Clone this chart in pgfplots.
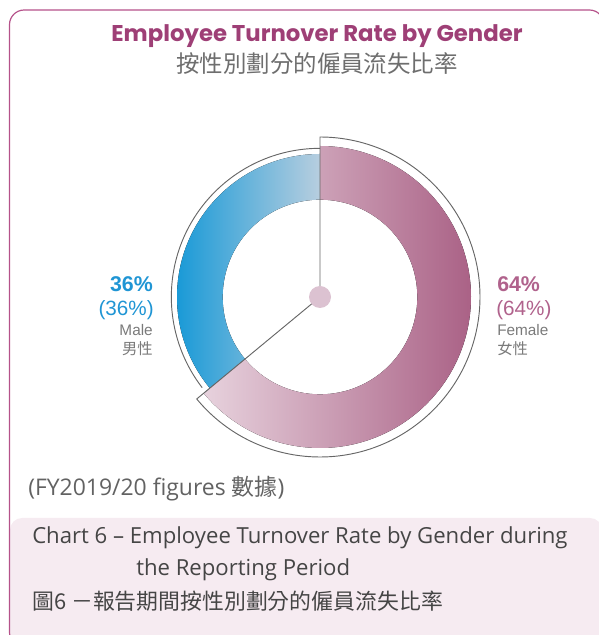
\documentclass[border=0pt]{standalone}
\usepackage{pgfplots}
\pgfplotsset{compat=1.18}
\usepackage{pgfplotstable}
\usepackage{fontspec}
\setmainfont{Open Sans}
\newfontfamily\titlefont{Poppins}
\newfontfamily\lblfont{Liberation Sans}
\newfontfamily\cjk{Noto Sans CJK TC}
\definecolor{frame}{HTML}{B5528A}
\definecolor{titlec}{HTML}{9E3F76}
\definecolor{blueL}{HTML}{1A9AD7}
\definecolor{blueR}{HTML}{B7CEDF}
\definecolor{pinkL}{HTML}{E7D2DD}
\definecolor{pinkR}{HTML}{A65A80}
\definecolor{dotc}{HTML}{DCC2D1}
\definecolor{lblblue}{HTML}{1F95D4}
\definecolor{lblpink}{HTML}{B0628C}
\definecolor{grayt}{HTML}{7A7A7A}
\definecolor{boxc}{HTML}{F6EBF1}
\definecolor{capt}{HTML}{454545}
\definecolor{linec}{HTML}{666666}
\pgfplotstableread{
gender share
Male 36
Female 64
}\shares
\begin{document}
\begin{tikzpicture}
\pgfplotstablegetelem{0}{share}\of\shares \let\male\pgfplotsretval
\pgfplotstablegetelem{1}{share}\of\shares \let\female\pgfplotsretval
\pgfmathsetmacro{\split}{90+3.6*\male}
\pgfmathsetmacro{\fend}{\split+3.6*\female}
\begin{axis}[hide axis, x=0.75pt, y=0.75pt, xmin=0, xmax=599, ymin=0, ymax=635,
  clip=false, scale only axis]
% caption box and frame
\fill[boxc, rounded corners=9pt] (10,-10) rectangle (602,117);
\draw[frame, line width=0.9pt, rounded corners=11pt] (9.5,-12) rectangle (604,625);
\coordinate (c) at (axis cs:320,338);
% male ring
\fill[left color=blueL, right color=blueR]
  ([shift={(90:107.25pt)}]c) arc[start angle=90, end angle=\split, radius=107.25pt]
  -- ([shift={(\split:73pt)}]c) arc[start angle=\split, end angle=90, radius=73pt] -- cycle;
% female ring
\fill[left color=pinkL, right color=pinkR]
  ([shift={(\split:113.25pt)}]c) arc[start angle=\split, end angle=\fend, radius=113.25pt]
  -- ([shift={(\fend:73pt)}]c) arc[start angle=\fend, end angle=\split, radius=73pt] -- cycle;
% outlines
\draw[linec, line width=0.7pt] ([shift={(90:111.5pt)}]c) arc[start angle=90, end angle=\split-2, radius=111.5pt];
\draw[linec, line width=0.7pt, line join=miter] (c) -- ([shift={(\split:120pt)}]c)
  arc[start angle=\split, end angle=\fend, radius=120pt] -- cycle;
\fill[dotc] (c) circle[radius=8.25pt];
% titles
\node[anchor=base, text=titlec, font=\titlefont\bfseries\fontsize{17.1}{19}\selectfont, inner sep=0pt] at (317,593) {Employee Turnover Rate by Gender};
\node[anchor=center, text=grayt!90!black, font=\cjk\fontsize{17.6}{19}\selectfont, inner sep=0pt] at (317,571) {按性別劃分的僱員流失比率};
% labels left
\node[anchor=base east, text=lblblue, font=\lblfont\bfseries\fontsize{16}{18}\selectfont, inner sep=0pt] at (153,343) {36\%};
\node[anchor=base east, text=lblblue, font=\lblfont\fontsize{15.5}{18}\selectfont, inner sep=0pt] at (154,319) {(36\%)};
\node[anchor=base east, text=grayt, font=\lblfont\fontsize{11.5}{14}\selectfont, inner sep=0pt] at (153,299) {Male};
\node[anchor=base east, text=grayt, font=\cjk\fontsize{11.5}{14}\selectfont, inner sep=0pt] at (153,280) {男性};
% labels right
\node[anchor=base west, text=lblpink, font=\lblfont\bfseries\fontsize{16}{18}\selectfont, inner sep=0pt] at (497,343) {64\%};
\node[anchor=base west, text=lblpink, font=\lblfont\fontsize{15.5}{18}\selectfont, inner sep=0pt] at (496,319) {(64\%)};
\node[anchor=base west, text=grayt, font=\lblfont\fontsize{11.5}{14}\selectfont, inner sep=0pt] at (497,299) {Female};
\node[anchor=base west, text=grayt, font=\cjk\fontsize{11.5}{14}\selectfont, inner sep=0pt] at (497,280) {女性};
% notes
\node[anchor=base west, text=grayt!80!black, font=\fontsize{17.2}{19}\selectfont, inner sep=0pt] at (28,139) {(FY2019/20 figures {\cjk 數據})};
\node[anchor=base west, text=capt, font=\fontsize{16.6}{19}\selectfont, inner sep=0pt] at (32,91) {Chart 6 – Employee Turnover Rate by Gender during};
\node[anchor=base west, text=capt, font=\fontsize{16.6}{19}\selectfont, inner sep=0pt] at (136,59) {the Reporting Period};
\node[anchor=base west, text=capt, font=\cjk\fontsize{16.4}{19}\selectfont, inner sep=0pt] at (32,26) {圖6 －報告期間按性別劃分的僱員流失比率};
\end{axis}
\pgfresetboundingbox
\useasboundingbox (current axis.south west) rectangle (current axis.north east);
\end{tikzpicture}
\end{document}
